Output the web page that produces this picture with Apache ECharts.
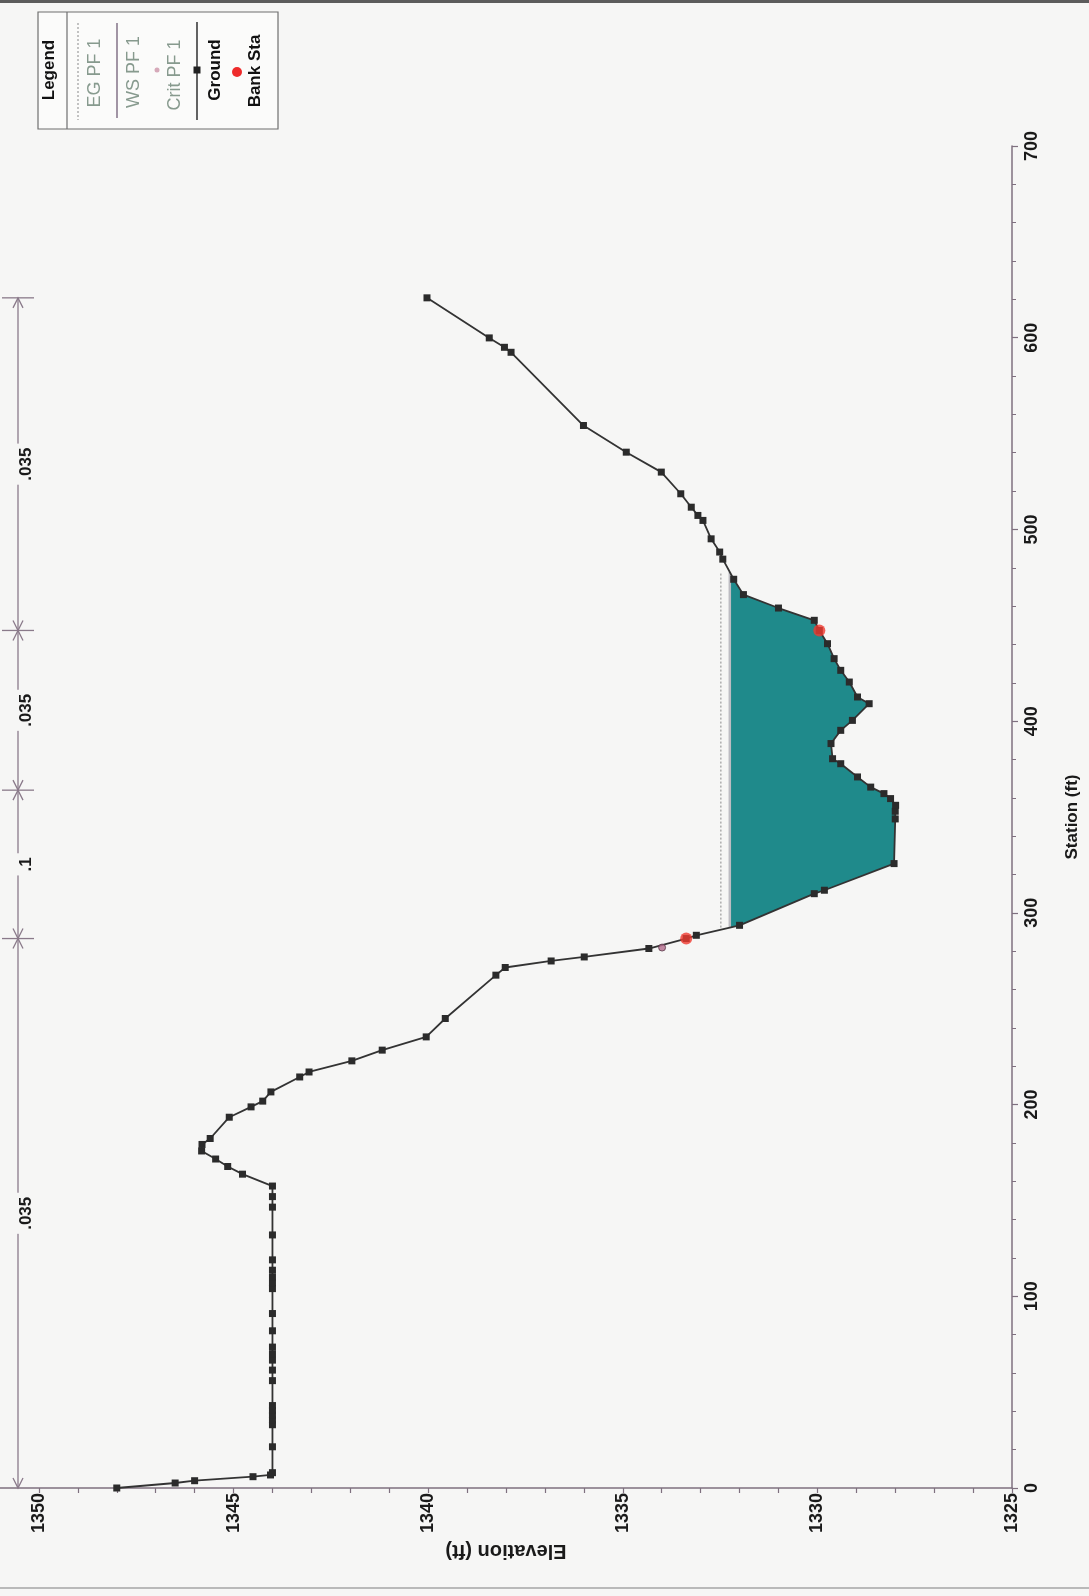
<!DOCTYPE html>
<html>
<head>
<meta charset="utf-8">
<script src="https://cdn.jsdelivr.net/npm/echarts@6/dist/echarts.min.js"></script>
<style>
  html, body { margin: 0; padding: 0; background: #f6f6f5; }
  #chart { width: 1089px; height: 1596px; }
</style>
</head>
<body>
<div id="chart"></div>
<script>
// Cross section survey: station (ft) and ground elevation (ft)
const groundStation = [
  0, 2.6, 3.8, 5.9, 6.8, 8, 21.5, 33, 35.5, 38, 40.5, 43, 56, 61.5, 66.7, 70, 73.5, 82, 91,
  104, 107, 110, 113.6, 119, 132, 146.5, 152, 157.5, 163.7, 167.7, 171.6, 175.8, 179.2, 182.3,
  193.4, 198.8, 201.8, 206.6, 214.4, 217, 222.8, 228.4, 235.3, 244.9, 267.5, 271.5, 274.9, 277,
  281.4, 286.6, 288.3, 293.5, 310, 311.8, 325.7, 349, 353, 356.1, 359.6, 362.2, 365.6, 370.9,
  377.8, 380.4, 388.3, 395.2, 400.4, 409.1, 412.6, 420.4, 426.5, 432.6, 440.4, 447.3, 452.6,
  459, 466, 474, 484.5, 488.2, 495.1, 504.7, 507.3, 511.6, 518.6, 529.9, 540.3, 554.2, 592.4,
  595, 599.9, 620.8
];
const groundElev = [
  1348.0, 1346.5, 1346.0, 1344.5, 1344.05, 1344.0, 1344.0, 1344.0, 1344.0, 1344.0, 1344.0, 1344.0, 1344.0, 1344.0, 1344.0, 1344.0, 1344.0, 1344.0, 1344.0,
  1344.0, 1344.0, 1344.0, 1344.0, 1344.0, 1344.0, 1344.0, 1344.0, 1344.0, 1344.77, 1345.15, 1345.46, 1345.82, 1345.81, 1345.6,
  1345.11, 1344.55, 1344.25, 1344.04, 1343.3, 1343.06, 1341.96, 1341.18, 1340.05, 1339.56, 1338.26, 1338.02, 1336.84, 1335.99,
  1334.33, 1333.37, 1333.11, 1332.0, 1330.08, 1329.82, 1328.03, 1328.0, 1328.0, 1327.99, 1328.12, 1328.29, 1328.63, 1328.97,
  1329.40, 1329.61, 1329.65, 1329.40, 1329.10, 1328.67, 1328.97, 1329.18, 1329.40, 1329.57, 1329.74, 1329.95, 1330.08,
  1331.0, 1331.9, 1332.15, 1332.43, 1332.51, 1332.73, 1332.94, 1333.07, 1333.24, 1333.51, 1334.01, 1334.91, 1336.01, 1337.87,
  1338.04, 1338.43, 1340.03
];

// Bank stations and profile PF 1 results
const bankStations = [286.6, 447.3];
const wsElev = 1332.25;     // WS PF 1
const egElev = 1332.48;     // EG PF 1
const critStation = 281.9;  // Crit PF 1
const critElev = 1333.99;

// Manning's n regions
const nBreaks = [0, 286.6, 364, 447.3, 620.8];
const nValues = ['.035', '.1', '.035', '.035'];

// Axis labels
const elevLabels = [1325, 1330, 1335, 1340, 1345, 1350];
const elevMin = 1325, elevMax = 1351;
const stationMin = 0, stationMax = 700, stationStep = 100;

const FONT = "'Liberation Sans', Arial, sans-serif";
const AXIS_COLOR = '#7f707f';

const elevTicks = [];
for (let e = elevLabels[0]; e <= elevLabels[elevLabels.length - 1]; e++) elevTicks.push(e);

function groundAt(s) {
  for (let i = 0; i < groundStation.length - 1; i++) {
    const a = groundStation[i], b = groundStation[i + 1];
    if (s >= a && s <= b) {
      const t = b === a ? 0 : (s - a) / (b - a);
      return groundElev[i] + t * (groundElev[i + 1] - groundElev[i]);
    }
  }
  return groundElev[groundElev.length - 1];
}

// Wetted area: ground below the water surface, closed along the water surface
function wetSection(ws) {
  const pts = [];
  let started = false, s1 = null, s2 = null;
  for (let i = 0; i < groundStation.length - 1; i++) {
    const sa = groundStation[i], ea = groundElev[i];
    const sb = groundStation[i + 1], eb = groundElev[i + 1];
    if (!started) {
      if (ea >= ws && eb < ws) {
        s1 = sa + (ea - ws) / (ea - eb) * (sb - sa);
        pts.push([ws, s1], [eb, sb]);
        started = true;
      }
    } else if (eb < ws) {
      pts.push([eb, sb]);
    } else {
      s2 = sa + (ws - ea) / (eb - ea) * (sb - sa);
      pts.push([ws, s2]);
      break;
    }
  }
  return { pts, s1, s2 };
}

const wet = wetSection(wsElev);
const groundData = groundStation.map((s, i) => [groundElev[i], s]);
const bankData = bankStations.map(s => [groundAt(s), s]);

const chart = echarts.init(document.getElementById('chart'), null, { renderer: 'canvas' });

// Legend drawn as a rotated panel in the upper-left corner
const legendGraphics = [
  { type: 'rect', shape: { x: 38, y: 12, width: 240, height: 117 },
    style: { fill: '#fbfbfa', stroke: '#6f6f6f', lineWidth: 1.2 } },
  { type: 'line', shape: { x1: 67, y1: 12, x2: 67, y2: 129 }, style: { stroke: '#6f6f6f', lineWidth: 1.2 } },
  { type: 'text', x: 49, y: 70, rotation: Math.PI / 2,
    style: { text: 'Legend', font: 'bold 17px ' + FONT, fill: '#111', align: 'center', verticalAlign: 'middle' } },

  { type: 'line', shape: { x1: 78, y1: 23, x2: 78, y2: 120 }, style: { stroke: '#8a8a8a', lineWidth: 1, lineDash: [2, 2] } },
  { type: 'text', x: 95, y: 73, rotation: Math.PI / 2,
    style: { text: 'EG PF 1', font: '18px ' + FONT, fill: '#879a8e', align: 'center', verticalAlign: 'middle' } },

  { type: 'line', shape: { x1: 117, y1: 23, x2: 117, y2: 118 }, style: { stroke: '#8b7b8f', lineWidth: 1.6 } },
  { type: 'text', x: 134, y: 72, rotation: Math.PI / 2,
    style: { text: 'WS PF 1', font: '18px ' + FONT, fill: '#879a8e', align: 'center', verticalAlign: 'middle' } },

  { type: 'circle', shape: { cx: 157, cy: 70, r: 2.5 }, style: { fill: '#d6a9b9' } },
  { type: 'text', x: 175, y: 75, rotation: Math.PI / 2,
    style: { text: 'Crit PF 1', font: '18px ' + FONT, fill: '#879a8e', align: 'center', verticalAlign: 'middle' } },

  { type: 'line', shape: { x1: 197, y1: 22, x2: 197, y2: 120 }, style: { stroke: '#222', lineWidth: 1.4 } },
  { type: 'rect', shape: { x: 193.5, y: 66.5, width: 7, height: 7 }, style: { fill: '#222' } },
  { type: 'text', x: 215, y: 70, rotation: Math.PI / 2,
    style: { text: 'Ground', font: 'bold 17px ' + FONT, fill: '#111', align: 'center', verticalAlign: 'middle' } },

  { type: 'circle', shape: { cx: 237, cy: 72, r: 5 }, style: { fill: '#ee2b2b' } },
  { type: 'text', x: 255, y: 71, rotation: Math.PI / 2,
    style: { text: 'Bank Sta', font: 'bold 17px ' + FONT, fill: '#111', align: 'center', verticalAlign: 'middle' } },

  // sheet edges
  { type: 'rect', shape: { x: 0, y: 0, width: 1089, height: 3 }, style: { fill: '#5c5c5c' } },
  { type: 'rect', shape: { x: 0, y: 1587, width: 1089, height: 2 }, style: { fill: '#b9b9b9' } }
];

const option = {
  animation: false,
  backgroundColor: '#f6f6f5',
  textStyle: { fontFamily: FONT },
  grid: { left: 0, right: 74, top: 146, bottom: 108, containLabel: false },
  xAxis: {
    type: 'value',
    inverse: true,
    min: elevMin,
    max: elevMax,
    position: 'bottom',
    name: 'Elevation (ft)',
    nameLocation: 'middle',
    nameRotate: 180,
    nameGap: 50,
    nameTextStyle: { fontSize: 20, fontWeight: 'bold', color: '#1a1a1a', fontFamily: FONT },
    axisLine: { show: true, onZero: false, lineStyle: { color: AXIS_COLOR, width: 1.5 } },
    axisTick: { show: true, length: 5, customValues: elevTicks, lineStyle: { color: AXIS_COLOR, width: 1.2 } },
    axisLabel: {
      rotate: 90, margin: 5, customValues: elevLabels, fontSize: 18, fontWeight: 'bold',
      color: '#1a1a1a', fontFamily: FONT, formatter: v => String(v)
    },
    splitLine: { show: false }
  },
  yAxis: {
    type: 'value',
    position: 'right',
    min: stationMin,
    max: stationMax,
    interval: stationStep,
    name: 'Station (ft)',
    nameLocation: 'middle',
    nameRotate: 90,
    nameGap: 52,
    nameTextStyle: { fontSize: 17, fontWeight: 'bold', color: '#1a1a1a', fontFamily: FONT },
    axisLine: { show: true, onZero: false, lineStyle: { color: AXIS_COLOR, width: 1.5 } },
    axisTick: { show: true, length: 6, lineStyle: { color: AXIS_COLOR, width: 1.2 } },
    minorTick: { show: true, splitNumber: 5, length: 4, lineStyle: { color: AXIS_COLOR, width: 1 } },
    axisLabel: { rotate: 90, margin: 11, fontSize: 18, fontWeight: 'bold', color: '#1a1a1a', fontFamily: FONT, formatter: v => String(v) },
    splitLine: { show: false }
  },
  graphic: legendGraphics,
  series: [
    {
      name: 'Flow area',
      type: 'custom',
      z: 1,
      silent: true,
      data: [[wsElev, wet.s1]],
      renderItem: function (params, api) {
        const points = wet.pts.map(p => api.coord(p));
        return { type: 'polygon', shape: { points: points }, style: { fill: '#1f8a8b' } };
      }
    },
    {
      name: 'EG PF 1',
      type: 'line',
      z: 2,
      silent: true,
      symbol: 'none',
      data: [[egElev, wet.s1], [egElev, wet.s2]],
      lineStyle: { color: '#9a9a9a', width: 1.2, type: [2, 2] }
    },
    {
      name: 'WS PF 1',
      type: 'line',
      z: 2,
      silent: true,
      symbol: 'none',
      data: [[wsElev, wet.s1], [wsElev, wet.s2]],
      lineStyle: { color: '#bdbcc2', width: 2.5 }
    },
    {
      name: 'Ground',
      type: 'line',
      z: 3,
      silent: true,
      symbol: 'rect',
      symbolSize: 7,
      data: groundData,
      lineStyle: { color: '#333333', width: 1.8 },
      itemStyle: { color: '#2b2b2b' }
    },
    {
      name: 'Crit PF 1',
      type: 'scatter',
      z: 4,
      silent: true,
      symbol: 'circle',
      symbolSize: 7,
      data: [[critElev, critStation]],
      itemStyle: { color: '#b36b8c', borderColor: '#5a3a4a', borderWidth: 1 }
    },
    {
      name: 'Bank Sta',
      type: 'scatter',
      z: 5,
      silent: true,
      symbol: 'circle',
      symbolSize: 12,
      data: bankData,
      itemStyle: { color: '#f0392f' }
    },
    {
      // Manning's n regions drawn as dimension lines beyond the top of the elevation range
      name: "Manning's n",
      type: 'custom',
      z: 6,
      silent: true,
      clip: false,
      data: nValues.map((v, i) => [elevMax, (nBreaks[i] + nBreaks[i + 1]) / 2]),
      renderItem: function (params, api) {
        const i = params.dataIndex;
        const x = 18;
        const yA = api.coord([elevMax, nBreaks[i]])[1];
        const yB = api.coord([elevMax, nBreaks[i + 1]])[1];
        const mid = (yA + yB) / 2;
        const st = { stroke: '#8a7a8a', lineWidth: 1.3, fill: null };
        return {
          type: 'group',
          children: [
            { type: 'line', shape: { x1: x, y1: yA, x2: x, y2: yB }, style: st },
            { type: 'polyline', shape: { points: [[x - 5, yA - 10], [x, yA], [x + 5, yA - 10]] }, style: st },
            { type: 'polyline', shape: { points: [[x - 5, yB + 10], [x, yB], [x + 5, yB + 10]] }, style: st },
            { type: 'line', shape: { x1: x - 16, y1: yB, x2: x + 16, y2: yB }, style: st },
            {
              type: 'text', x: x + 8, y: mid, rotation: Math.PI / 2,
              style: {
                text: nValues[i], font: 'bold 17px ' + FONT, fill: '#1a1a1a',
                align: 'center', verticalAlign: 'middle',
                backgroundColor: '#f6f6f5', padding: [3, 4]
              }
            }
          ]
        };
      }
    }
  ]
};

chart.setOption(option);
</script>
</body>
</html>
